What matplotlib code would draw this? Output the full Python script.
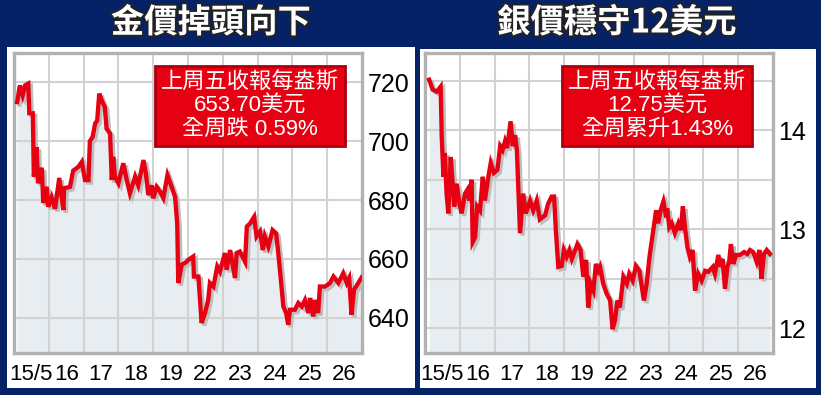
import matplotlib
matplotlib.use("Agg")
import matplotlib.pyplot as plt
import matplotlib.patheffects as pe
from matplotlib.patches import Rectangle

# trading days shown on the x axis (one column per day)
day_labels = ['15/5', '16', '17', '18', '19', '22', '23', '24', '25', '26']

# gold, USD/oz  (t = position in day columns)
gold_t = [0.09, 0.17, 0.25, 0.32, 0.41, 0.44, 0.54, 0.57, 0.65, 0.69, 0.80, 0.84, 0.94, 0.98,
          1.08, 1.18, 1.30, 1.37, 1.42, 1.44, 1.61, 1.70, 1.85, 1.95, 2.04, 2.14, 2.18, 2.26,
          2.33, 2.39, 2.45, 2.52, 2.61, 2.66, 2.76, 2.81, 2.85, 2.90, 3.00, 3.14, 3.24, 3.33,
          3.48, 3.57, 3.72, 3.79, 3.86, 3.96, 4.00, 4.10, 4.20, 4.29, 4.41, 4.53, 4.63, 4.69,
          4.72, 4.82, 4.96, 5.01, 5.15, 5.17, 5.30, 5.39, 5.49, 5.58, 5.63, 5.73, 5.84, 5.92,
          6.06, 6.11, 6.21, 6.35, 6.40, 6.49, 6.64, 6.69, 6.78, 6.90, 6.97, 7.07, 7.15, 7.21,
          7.31, 7.43, 7.53, 7.59, 7.66, 7.74, 7.82, 7.88, 7.93, 8.07, 8.17, 8.27, 8.36, 8.46,
          8.51, 8.60, 8.65, 8.74, 8.79, 8.94, 9.08, 9.18, 9.32, 9.46, 9.56, 9.63, 9.70, 9.77,
          9.86, 9.99]
gold_px = [713.3, 719.0, 715.6, 719.0, 719.6, 709.5, 709.5, 688.0, 698.0, 685.7, 691.0, 679.0,
           684.5, 677.7, 681.0, 677.0, 687.5, 681.0, 676.6, 684.0, 684.5, 690.0, 691.3, 693.0,
           686.8, 686.8, 700.0, 701.5, 706.0, 707.0, 716.2, 713.9, 711.6, 704.3, 702.6, 686.8,
           694.7, 688.0, 685.7, 692.5, 686.8, 682.3, 688.0, 685.0, 693.6, 689.0, 681.7, 685.0,
           680.6, 684.5, 682.8, 680.7, 688.5, 684.5, 681.0, 672.0, 651.8, 658.0, 659.0, 659.7,
           660.8, 654.0, 654.0, 638.2, 641.6, 646.0, 651.8, 650.6, 657.4, 655.7, 662.0, 656.3,
           663.0, 653.5, 662.0, 662.5, 659.0, 671.0, 672.0, 674.3, 667.6, 669.3, 663.0, 667.6,
           664.2, 669.8, 668.7, 662.5, 654.0, 643.8, 641.6, 637.6, 642.7, 642.7, 645.0, 643.8,
           646.0, 641.6, 646.7, 640.4, 646.0, 641.6, 650.6, 650.6, 651.8, 654.0, 651.8, 655.1,
           651.8, 653.5, 641.0, 649.5, 651.2, 653.7]

# silver, USD/oz
silver_t = [0.12, 0.22, 0.34, 0.45, 0.48, 0.53, 0.57, 0.62, 0.67, 0.74, 0.80, 0.84, 0.91, 0.99,
            1.05, 1.15, 1.22, 1.27, 1.34, 1.37, 1.44, 1.50, 1.58, 1.66, 1.72, 1.82, 1.89, 1.98,
            2.08, 2.16, 2.23, 2.30, 2.36, 2.46, 2.52, 2.59, 2.64, 2.68, 2.73, 2.82, 2.90, 3.02,
            3.11, 3.21, 3.30, 3.45, 3.54, 3.64, 3.71, 3.76, 3.83, 3.93, 3.99, 4.07, 4.15, 4.22,
            4.38, 4.47, 4.55, 4.63, 4.69, 4.76, 4.84, 4.91, 4.98, 5.03, 5.12, 5.22, 5.32, 5.39,
            5.46, 5.53, 5.60, 5.70, 5.80, 5.87, 5.97, 6.06, 6.16, 6.29, 6.37, 6.45, 6.56, 6.64,
            6.70, 6.77, 6.85, 6.93, 6.96, 7.02, 7.09, 7.18, 7.28, 7.35, 7.41, 7.47, 7.54, 7.61,
            7.69, 7.76, 7.85, 7.95, 8.05, 8.14, 8.27, 8.33, 8.43, 8.50, 8.55, 8.62, 8.69, 8.74,
            8.79, 8.86, 8.94, 9.05, 9.17, 9.26, 9.34, 9.43, 9.53, 9.61, 9.67, 9.74, 9.82, 9.91]
silver_px = [14.51, 14.41, 14.39, 14.44, 13.94, 13.53, 13.77, 13.36, 13.16, 13.73, 13.43, 13.23,
             13.46, 13.26, 13.16, 13.36, 13.40, 13.29, 13.50, 12.87, 12.92, 13.23, 13.19, 13.53,
             13.29, 13.53, 13.67, 13.57, 13.60, 13.84, 13.80, 13.89, 13.82, 14.09, 13.84, 13.95,
             13.80, 13.43, 12.96, 13.36, 13.16, 13.29, 13.19, 13.29, 13.10, 13.14, 13.26, 13.33,
             13.33, 12.99, 12.62, 12.63, 12.79, 12.72, 12.79, 12.70, 12.85, 12.79, 12.52, 12.69,
             12.21, 12.45, 12.38, 12.65, 12.58, 12.62, 12.45, 12.35, 12.28, 11.99, 12.08, 12.28,
             12.21, 12.52, 12.45, 12.55, 12.48, 12.63, 12.58, 12.28, 12.45, 12.72, 12.99, 13.19,
             13.06, 13.19, 13.28, 13.12, 13.21, 13.02, 13.06, 12.96, 13.06, 12.99, 13.23, 13.02,
             12.82, 12.72, 12.79, 12.38, 12.55, 12.48, 12.58, 12.57, 12.62, 12.55, 12.74, 12.62,
             12.70, 12.40, 12.62, 12.67, 12.85, 12.65, 12.74, 12.74, 12.77, 12.75, 12.79, 12.77,
             12.67, 12.79, 12.50, 12.75, 12.79, 12.75]

NAVY = '#062267'
RED = '#e60012'
FILL = '#e8edf1'
GRID = '#d2d2d2'
W, H = 821, 395

latin_cjk = ['Liberation Sans', 'Noto Sans CJK TC']
narrow = ['Liberation Sans Narrow', 'Liberation Sans']

fig = plt.figure(figsize=(W / 100, H / 100), dpi=100, facecolor=NAVY)

# white panels (behind the axes)
fig.patches.append(Rectangle((7 / W, 7 / H), 408 / W, 341 / H, transform=fig.transFigure,
                             facecolor='white', edgecolor='none', zorder=-5))
fig.patches.append(Rectangle((420 / W, 7 / H), 396 / W, 339 / H, transform=fig.transFigure,
                             facecolor='white', edgecolor='none', zorder=-5))


def panel(left_px, t, px, ylim, grid_y, label_y, title, title_x, box_lines, box_x):
    ax = fig.add_axes([left_px / W, 42 / H, 348 / W, 300 / H])
    ax.set_zorder(1)
    ax.set_facecolor('white')
    ax.fill_between(t, px, ylim[0], color=FILL, lw=0, zorder=1)
    ax.plot(t, px, color=RED, lw=3.1, solid_joinstyle='miter', zorder=4,
            path_effects=[pe.SimpleLineShadow(offset=(1.8, -1.8), shadow_color='#bdbdbd', alpha=1),
                          pe.Normal()])
    ax.set_xlim(0, 10)
    ax.set_ylim(*ylim)
    for i in range(1, 10):
        ax.axvline(i, color=GRID, lw=1.5, zorder=2)
    for y in grid_y:
        ax.axhline(y, color=GRID, lw=1.5, zorder=2)
    for s in ax.spines.values():
        s.set_color('#b2b2b2')
        s.set_linewidth(2.4)
    ax.set_xticks([i + 0.5 for i in range(10)])
    ax.set_xticklabels(day_labels, family=narrow, fontsize=16)
    ax.tick_params(axis='x', length=0, pad=8)
    ax.yaxis.tick_right()
    ax.set_yticks(label_y)
    ax.set_yticklabels(['{:.0f}'.format(v) for v in label_y], family=narrow, fontsize=18)
    ax.tick_params(axis='y', length=0, pad=4)

    fig.text(title_x / W, 1 - 23 / H, title, ha='center', va='center', color='white',
             fontsize=24, fontweight='black', family=['Noto Sans CJK TC'], zorder=5,
             path_effects=[pe.withStroke(linewidth=2.5, foreground='#222222')])
    ax.text((box_x - left_px) / 348, 1 - (106 - 53) / 300, '\n'.join(box_lines),
            transform=ax.transAxes, ha='center', va='center',
            color='white', fontsize=16, family=latin_cjk, linespacing=1.15, zorder=10,
            bbox=dict(boxstyle='square,pad=0.25', facecolor=RED, edgecolor='#a8000e', lw=2))
    return ax


panel(14, gold_t, gold_px, (628, 730), [640, 660, 680, 700, 720], [640, 660, 680, 700, 720],
      '金價掉頭向下', 211, ['上周五收報每盎斯', '653.70美元', '全周跌 0.59%'], 250)
panel(425, silver_t, silver_px, (11.75, 14.78), [12, 12.5, 13, 13.5, 14, 14.5], [12, 13, 14],
      '銀價穩守12美元', 617, ['上周五收報每盎斯', '12.75美元', '全周累升1.43%'], 657)

fig.savefig('out.png', dpi=100, facecolor=NAVY)
